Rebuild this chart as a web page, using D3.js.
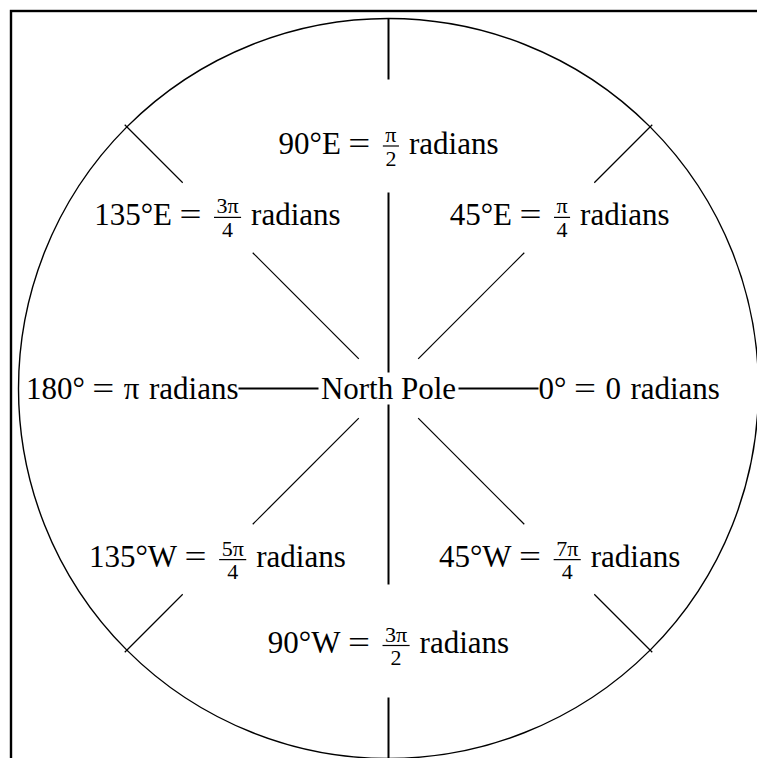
<!DOCTYPE html>
<html>
<head>
<meta charset="utf-8">
<script src="https://cdn.jsdelivr.net/npm/d3@7"></script>
<style>
  html, body { margin: 0; padding: 0; background: #fff; }
  svg { display: block; }
  text { font-family: "Liberation Serif", "Times New Roman", serif; fill: #000; }
</style>
</head>
<body>
<svg id="chart" width="757" height="758"></svg>
<script>
// ---- data ----
const angles       = [0, 45, 90, 135, 180, 225, 270, 315];          // degrees, counter-clockwise from east
const degreeLabels = ["0°", "45°E", "90°E", "135°E", "180°", "135°W", "90°W", "45°W"];
const radianNums   = ["0", "π", "π", "3π", "π", "5π", "3π", "7π"];
const radianDens   = [null, "4", "2", "4", null, "4", "2", "4"];
const unitWord     = "radians";
const centerLabel  = "North Pole";

// ---- layout ----
const cx = 388.5, cy = 388.5, R = 370;
const fs = 31, fsFrac = 22;

const svg = d3.select("#chart");

// frame
svg.append("rect")
  .attr("x", 11).attr("y", 11).attr("width", 800).attr("height", 800)
  .attr("fill", "none").attr("stroke", "#000").attr("stroke-width", 2.4);

const rScale = d3.scaleLinear().domain([0, 1]).range([0, R]);
const aScale = d3.scaleLinear().domain([0, 360]).range([0, 2 * Math.PI]);
const px = (deg, r) => cx + r * Math.cos(aScale(deg));
const py = (deg, r) => cy - r * Math.sin(aScale(deg));

// circle
svg.append("circle")
  .attr("cx", cx).attr("cy", cy).attr("r", rScale(1))
  .attr("fill", "none").attr("stroke", "#000").attr("stroke-width", 1.4);

// segment extents (fractions of R) by direction type
function segmentsFor(deg) {
  const m = ((deg % 180) + 180) % 180;
  if (m === 0)  return [[70 / R, 150 / R]];                       // horizontal
  if (m === 90) return [[16 / R, 196 / R], [309 / R, 1]];         // vertical
  return [[42 / R, 192 / R], [291 / R, 373 / R]];                 // diagonal
}
// label anchor radius (px) by direction
function labelRadius(deg) {
  if (deg === 90) return 242.5;
  if (deg === 270) return 257;
  return 242;
}

const segData = [];
angles.forEach(a => segmentsFor(a).forEach(s => segData.push({ a, r0: s[0], r1: s[1] })));

svg.append("g").selectAll("line").data(segData).join("line")
  .attr("x1", d => px(d.a, rScale(d.r0)))
  .attr("y1", d => py(d.a, rScale(d.r0)))
  .attr("x2", d => px(d.a, rScale(d.r1)))
  .attr("y2", d => py(d.a, rScale(d.r1)))
  .attr("stroke", "#000")
  .attr("stroke-width", d => (d.a % 90 === 0) ? 2 : 1.2);

// measuring helper
const meas = svg.append("text").attr("x", -1000).attr("y", -1000);
function tw(str, size) {
  meas.attr("font-size", size).text(str);
  return meas.node().getComputedTextLength();
}

// center label
svg.append("text")
  .attr("x", cx).attr("y", cy + 0.33 * fs)
  .attr("text-anchor", "middle")
  .attr("font-size", fs)
  .text(centerLabel);

// compound labels
const eqW = 22;
const labelG = svg.append("g");
angles.forEach((a, i) => {
  const hasFrac = !!radianDens[i];
  const parts = [];
  parts.push({ t: degreeLabels[i], w: tw(degreeLabels[i], fs) });
  parts.push({ gap: 7.5 });
  parts.push({ eq: true, w: eqW });
  parts.push({ gap: hasFrac ? 12.5 : 9.5 });
  if (hasFrac) {
    const wn = tw(radianNums[i], fsFrac), wd = tw(radianDens[i], fsFrac);
    parts.push({ frac: true, n: radianNums[i], d: radianDens[i], w: Math.max(wn, wd) + 5 });
  } else {
    parts.push({ t: radianNums[i], w: tw(radianNums[i], fs) });
  }
  parts.push({ gap: hasFrac ? 10 : 9.5 });
  parts.push({ t: unitWord, w: tw(unitWord, fs) });
  const total = d3.sum(parts, p => p.gap || p.w);

  const m = ((a % 180) + 180) % 180;
  let left, axisY;
  if (m === 0) {
    // horizontal labels: inner edge meets the end of the line
    const rEdge = 150;
    axisY = cy + 3;
    left = (Math.cos(aScale(a)) > 0) ? px(a, rEdge) : px(a, rEdge) - total;
  } else {
    const rl = labelRadius(a);
    axisY = py(a, rl);
    left = px(a, rl) - total / 2;
  }
  const baseY = axisY + 0.25 * fs;
  const g = labelG.append("g");
  let x = left;
  parts.forEach(p => {
    if (p.gap) { x += p.gap; return; }
    if (p.frac) {
      const mid = x + p.w / 2;
      const ft = g.append("text").attr("text-anchor", "middle").attr("font-size", fsFrac);
      ft.append("tspan").attr("x", mid).attr("y", axisY - 4).text(p.n);
      ft.append("tspan").attr("x", mid).attr("y", axisY + 19.5).text(p.d);
      g.append("line").attr("x1", x).attr("x2", x + p.w)
        .attr("y1", axisY).attr("y2", axisY)
        .attr("stroke", "#000").attr("stroke-width", 1.2);
    } else if (p.eq) {
      g.append("text").attr("x", x).attr("y", baseY).attr("font-size", fs)
        .attr("textLength", p.w).attr("lengthAdjust", "spacingAndGlyphs").text("=");
    } else {
      g.append("text").attr("x", x).attr("y", baseY).attr("font-size", fs).text(p.t);
    }
    x += p.w;
  });
});
meas.remove();
</script>
</body>
</html>
